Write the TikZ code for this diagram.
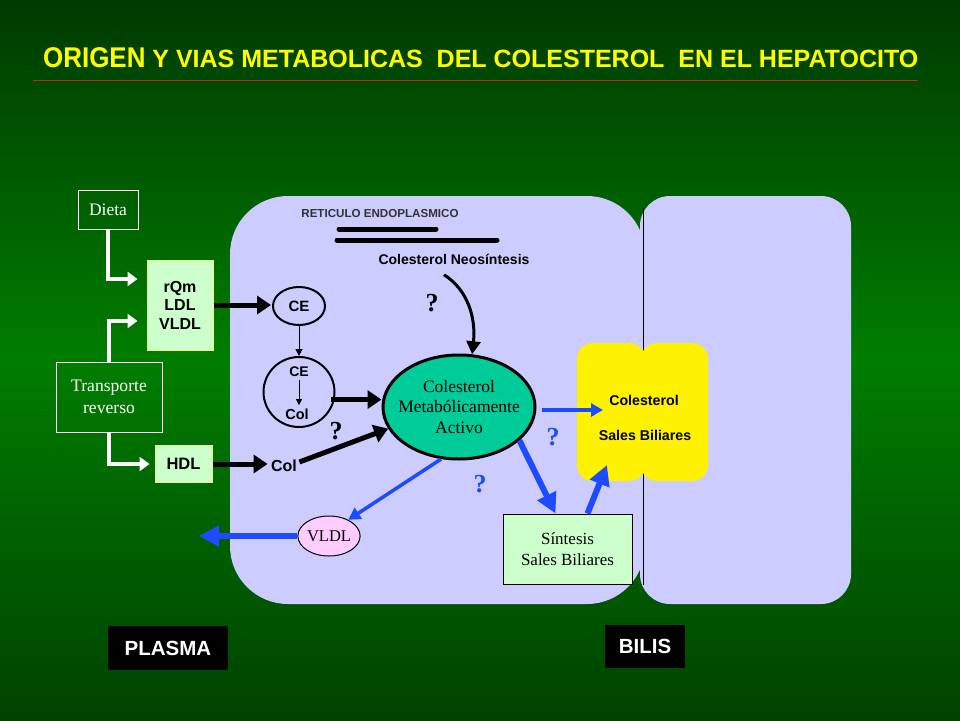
\documentclass[tikz,border=0pt]{standalone}
\usepackage{fontspec}
\setmainfont{Liberation Sans}
\newfontfamily\tnr{Liberation Serif}
\usetikzlibrary{arrows.meta,shapes.geometric}
\definecolor{bgtop}{RGB}{0,58,0}
\definecolor{bgmid}{RGB}{0,125,0}
\definecolor{bgbot}{RGB}{0,66,0}
\definecolor{lav}{RGB}{204,204,255}
\definecolor{lgreen}{RGB}{204,255,204}
\definecolor{teal}{RGB}{0,204,153}
\definecolor{pinkv}{RGB}{255,204,255}
\definecolor{bblue}{RGB}{30,75,255}
\definecolor{titley}{RGB}{255,255,0}
\definecolor{redline}{RGB}{190,40,40}
\definecolor{ltyel}{RGB}{240,255,120}
\begin{document}
\begin{tikzpicture}[x=1pt,y=-1pt,
  sb/.style={font=\fontsize{#1}{#1}\selectfont\bfseries},
  wbox/.style={draw=white, line width=1, text=white, align=center},
  gbox/.style={draw=ltyel, fill=lgreen, line width=1, align=center},
  warrow/.style={white, line width=4, -{Triangle[length=10,width=14]}},
  barrow/.style={black, line width=5, -{Triangle[length=14,width=18]}},
  bigblue/.style={bblue, line width=6, -{Triangle[length=20,width=20]}},
  medblue/.style={bblue, line width=3.5, -{Triangle[length=12,width=13]}},
  qm/.style={font=\tnr\fontsize{26}{26}\selectfont\bfseries},
]
\useasboundingbox (0,0) rectangle (960,720);
\shade[top color=bgtop, bottom color=bgbot, middle color=bgmid] (0,0) rectangle (960,720);

% title
\node[anchor=base west, text=titley, inner sep=0] (title) at (43,67)
  {\fontsize{28.5}{28.5}\selectfont\bfseries\scalebox{0.91}[1]{ORIGEN}\fontsize{25}{25}\selectfont\ Y VIAS METABOLICAS\ \ DEL COLESTEROL\ \ EN EL HEPATOCITO};
\draw[redline, line width=1] (33,80) -- (918,80);

% cell compartments
\fill[lav, rounded corners=30] (640,196) rectangle (851,604);
\fill[lav, rounded corners=58] (230,196) rectangle (645,604);
\draw[black, line width=1] (643,208) -- (643,585);
% yellow canaliculus
\fill[yellow, rounded corners=16] (577,343) rectangle (645,481);
\fill[yellow, rounded corners=16] (641,343) rectangle (708,481);
\node[sb=14.2] (ycol) at (644,400) {Colesterol};
\node[sb=14.2] (ysal) at (645,435) {Sales Biliares};

% left boxes
\node[wbox, minimum width=60, minimum height=39, font=\tnr\fontsize{17.5}{17.5}\selectfont] (dieta) at (108,209.5) {Dieta};
\node[gbox, minimum width=66, minimum height=90, font=\fontsize{16}{18.5}\selectfont\bfseries] (rqm) at (180,305) {rQm\\LDL\\VLDL};
\node[wbox, minimum width=106, minimum height=70, font=\tnr\fontsize{17.6}{21.5}\selectfont] (trans) at (109,397) {Transporte\\reverso};
\node[gbox, minimum width=57, minimum height=37, font=\fontsize{16.5}{16.5}\selectfont\bfseries] (hdl) at (183.5,464) {HDL};

\draw[warrow] (dieta.south) |- ([shift={(-9,-26)}]rqm.west);
\draw[warrow] (trans.north) |- ([shift={(-9,16)}]rqm.west);
\draw[warrow] (trans.south) |- ([xshift=-5]hdl.west);

% endoplasmic reticulum
\node[font=\fontsize{11.6}{11.6}\selectfont\bfseries, text=black!80] (ret) at (380,214) {RETICULO ENDOPLASMICO};
\draw[line width=5, line cap=round] (339,229) -- (436,229);
\draw[line width=5, line cap=round] (337,240) -- (497,240);
\node[sb=14] (neo) at (454,259) {Colesterol Neos\'intesis};

% CE ellipses
\node[ellipse, draw, line width=2, minimum width=52, minimum height=38, inner sep=0, sb=15] (ce1) at (299,306) {CE};
\node[ellipse, draw, line width=2, minimum width=71, minimum height=70, inner sep=0] (ce2) at (299,392) {};
\node[sb=14] (ce2a) at (299,372) {CE};
\node[sb=14.5] (ce2b) at (297,414) {Col};
\draw[line width=1, -{Triangle[length=6,width=6]}] (ce2a.south) -- (ce2a.south |- ce2b.north);
\draw[line width=1, -{Triangle[length=7,width=7]}] (ce1.south) -- (ce2.north);

\node[sb=16] (col) at (284,466) {Col};

% central ellipse
\node[ellipse, draw, fill=teal, line width=3, minimum width=152, minimum height=104, inner sep=0] (mca) at (459,407) {};
\node[align=center, inner sep=0, font=\tnr\fontsize{17.5}{20.5}\selectfont] (mcatext) at (459,407) {Colesterol\\Metab\'olicamente\\Activo};

% black arrows
\draw[barrow] (rqm.east) -- ([xshift=-1]rqm.east -| ce1.west);
\draw[barrow] (hdl.east) -- (hdl.east -| col.west);
\draw[barrow] ([xshift=-4]ce2.-12) -- (ce2.-12 -| mca.west);
\draw[barrow] ([shift={(-1,-4)}]col.east) -- (mca.197);
\draw[black, line width=3, -{Triangle[length=13,width=14]}] ([shift={(-10,7)}]neo.south) .. controls (468,290) and (476,318) .. (mca.76);

\node[qm] (q1) at (432,303) {?};
\node[qm] (q2) at (336,431) {?};

% right-hand side
\node[draw, fill=lgreen, line width=1, minimum width=129, minimum height=70, align=center, font=\tnr\fontsize{17}{21}\selectfont] (sint) at (567.5,549) {S\'intesis\\Sales Biliares};
\node[ellipse, draw, fill=pinkv, line width=1, minimum width=60, minimum height=40, inner sep=0, font=\tnr\fontsize{16.5}{16.5}\selectfont] (vldl) at (329,536) {VLDL};

\coordinate (ytip) at (603,410);
\coordinate (ytip2) at (607,465);
\coordinate (vout) at (199,536);

\draw[medblue] ([shift={(5,3)}]mca.east) -- (ytip);
\draw[bigblue] (mca.-29) -- ([xshift=-12]sint.north);
\draw[bigblue] ([xshift=20]sint.north) -- (ytip2);
\draw[medblue] (mca.-109) -- (vldl.40);
\draw[bigblue] (vldl.west) -- (vout);

\node[qm, text=bblue] (q3) at (553,437) {?};
\node[qm, text=bblue] (q4) at (480,484) {?};

% labels
\node[fill=black, text=white, minimum width=120, minimum height=44, sb=20.5] (plasma) at (168,648) {PLASMA};
\node[fill=black, text=white, minimum width=80, minimum height=43, sb=20.5] (bilis) at (645,646.5) {BILIS};
\end{tikzpicture}
\end{document}
